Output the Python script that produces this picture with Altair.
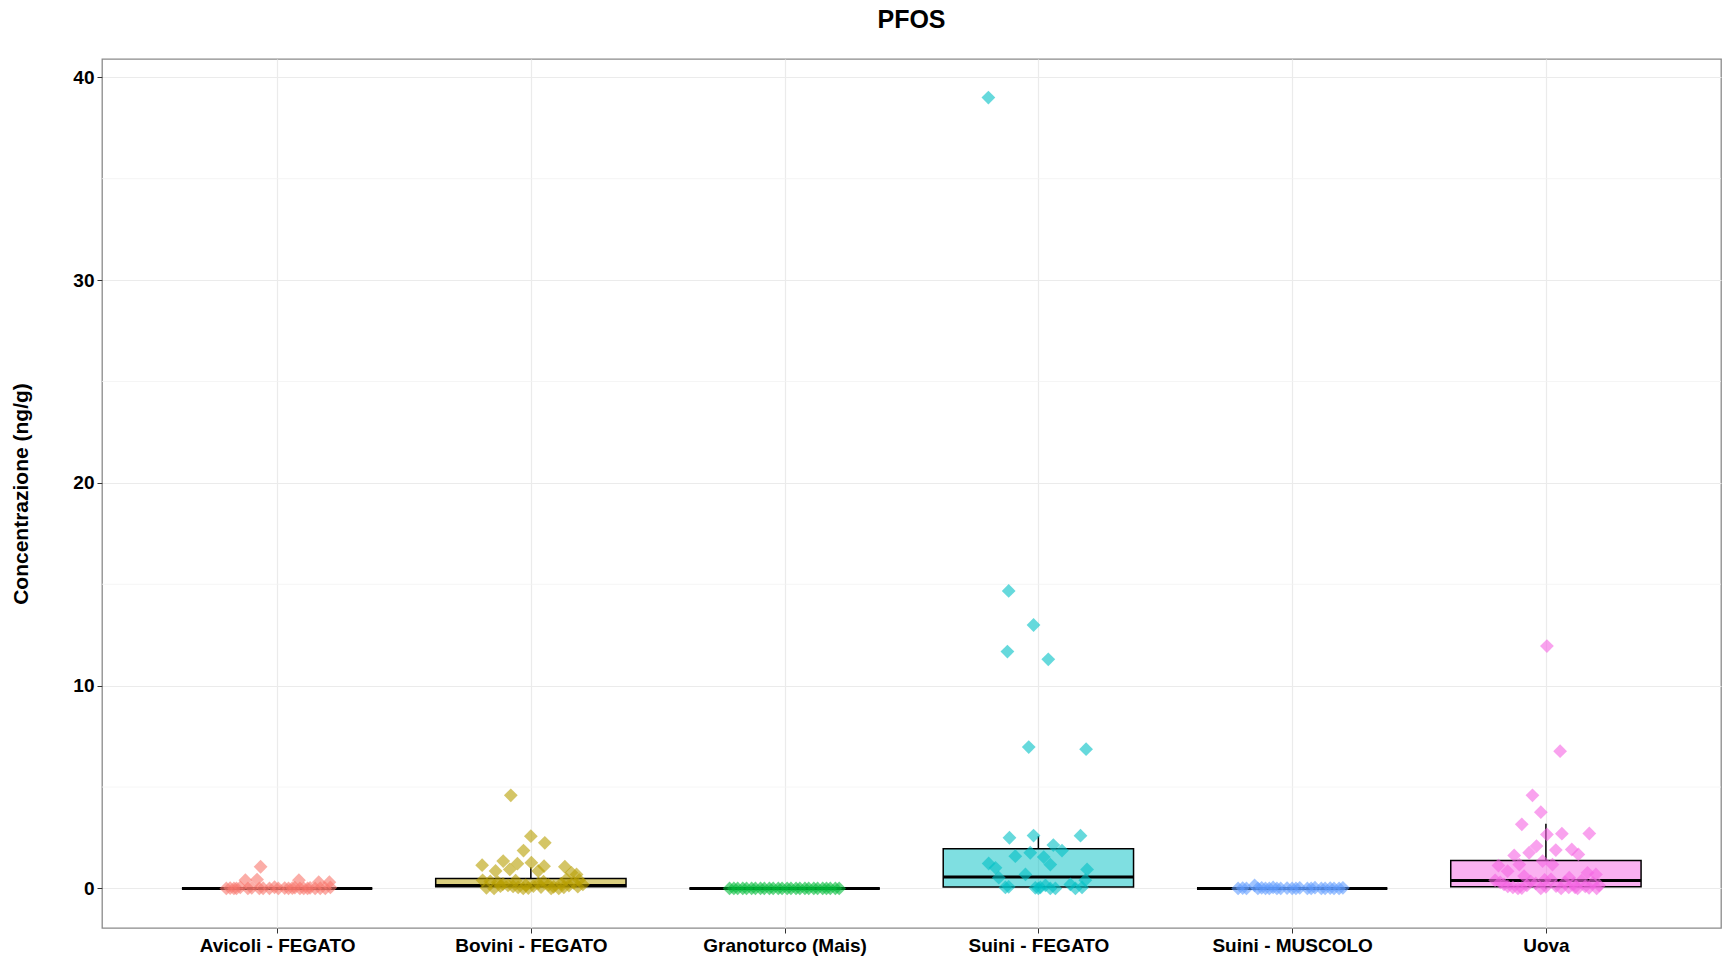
import altair as alt
import pandas as pd

# ---------------- data ----------------
categories = ["Avicoli - FEGATO", "Bovini - FEGATO", "Granoturco (Mais)",
              "Suini - FEGATO", "Suini - MUSCOLO", "Uova"]
colors = ["#F8766D", "#B79F00", "#00BA38", "#00BFC4", "#619CFF", "#F564E3"]

# box-plot statistics (ng/g)
box_q1 = [0.0, 0.08, 0.0, 0.07, 0.0, 0.08]
box_med = [0.0, 0.14, 0.0, 0.56, 0.0, 0.39]
box_q3 = [0.0, 0.49, 0.0, 1.96, 0.0, 1.38]
box_wlo = [0.0, 0.0, 0.0, 0.0, 0.0, 0.0]
box_whi = [0.0, 1.05, 0.0, 2.58, 0.0, 3.19]

# jittered observations: value and horizontal jitter (in category units)
avicoli_val = [0.00, 0.02, 0.00, 0.05, 0.00, 0.03, 0.00, 0.01, 0.00, 0.06, 0.00, 0.02,
               0.00, 0.04, 0.00, 0.00, 0.03, 0.00, 0.01, 0.00, 0.05, 0.00, 0.02, 0.00,
               1.07, 0.41, 0.44, 0.41, 0.31, 0.31]
avicoli_jit = [-0.20, -0.185, -0.16, -0.145, -0.115, -0.10, -0.07, -0.055, -0.03, -0.01,
               0.005, 0.03, 0.045, 0.07, 0.09, 0.105, 0.13, 0.15, 0.17, 0.19, 0.21, -0.17,
               0.06, 0.12, -0.065, -0.125, -0.079, 0.086, 0.164, 0.206]

bovini_val = [4.59, 2.58, 2.25, 1.87, 1.15, 1.35, 1.22, 1.27, 1.10, 1.07, 0.86, 0.94,
              0.77, 0.86, 0.69, 0.40, 0.35, 0.30, 0.22, 0.15, 0.10, 0.05, 0.00, 0.02,
              0.12, 0.25, 0.33, 0.18, 0.08, 0.00, 0.06, 0.14, 0.28, 0.42, 0.20, 0.03,
              0.00, 0.11, 0.38, 0.16, 0.07, 0.00, 0.24, 0.45, 0.09]
bovini_jit = [-0.079, 0.0, 0.055, -0.029, -0.192, -0.109, -0.053, 0.002, 0.052, 0.134,
              -0.139, -0.083, 0.16, 0.029, 0.18, -0.19, -0.16, -0.13, -0.11, -0.09,
              -0.07, -0.05, -0.03, -0.01, 0.01, 0.03, 0.05, 0.07, 0.09, 0.11, 0.13,
              0.15, 0.17, 0.19, 0.205, -0.175, -0.145, -0.12, -0.06, -0.02, 0.04,
              0.08, 0.12, 0.14, 0.185]

grano_val = [0.0] * 26
grano_jit = [-0.217, -0.2, -0.185, -0.165, -0.15, -0.13, -0.115, -0.095, -0.08, -0.06,
             -0.045, -0.025, -0.01, 0.01, 0.025, 0.045, 0.06, 0.08, 0.095, 0.115, 0.13,
             0.15, 0.165, 0.18, 0.2, 0.215]

suinif_val = [39.0, 14.67, 12.99, 11.68, 11.30, 6.97, 6.87, 2.50, 2.61, 2.60, 2.14,
              1.87, 1.76, 1.59, 1.55, 1.23, 1.02, 1.18, 0.94, 0.69, 0.53, 0.41, 0.08,
              0.03, 0.05, 0.15, 0.00, 0.00, 0.20, 0.00, 0.05, 0.00, 0.05]
suinif_jit = [-0.197, -0.117, -0.019, -0.122, 0.039, -0.038, 0.188, -0.114, -0.019,
              0.166, 0.059, 0.093, -0.032, -0.091, 0.021, -0.196, -0.169, 0.047, 0.192,
              -0.051, -0.156, 0.185, -0.117, -0.012, 0.008, 0.028, 0.047, 0.067, 0.126,
              0.146, 0.172, 0.0, -0.13]

suinim_val = [0.0, 0.02, 0.0, 0.15, 0.0, 0.03, 0.0, 0.0, 0.05, 0.0, 0.0, 0.02, 0.0,
              0.0, 0.03, 0.0, 0.0, 0.04, 0.0, 0.0, 0.02, 0.0, 0.0, 0.03]
suinim_jit = [-0.213, -0.195, -0.18, -0.148, -0.135, -0.12, -0.105, -0.09, -0.075,
              -0.06, -0.045, -0.02, 0.0, 0.015, 0.03, 0.06, 0.075, 0.09, 0.115, 0.13,
              0.15, 0.165, 0.185, 0.2]

uova_val = [11.95, 6.77, 4.59, 3.76, 3.16, 2.70, 2.71, 2.66, 2.09, 1.89, 1.92, 1.68,
            1.63, 1.76, 1.13, 1.18, 1.35, 1.18, 0.85, 0.77, 0.69, 0.61, 0.53, 0.40,
            0.30, 0.20, 0.10, 0.05, 0.00, 0.02, 0.15, 0.35, 0.25, 0.00, 0.08, 0.45,
            0.12, 0.00, 0.30, 0.05, 0.22, 0.00, 0.38, 0.10, 0.03, 0.28, 0.00, 0.15,
            0.42, 0.06]
uova_jit = [0.004, 0.056, -0.053, -0.02, -0.095, 0.063, 0.171, 0.004, -0.037, 0.039,
            0.102, 0.128, -0.125, -0.066, -0.187, -0.105, -0.013, 0.026, -0.151, 0.164,
            0.197, -0.086, 0.092, -0.2, -0.18, -0.165, -0.15, -0.13, -0.11, -0.095,
            -0.075, -0.06, -0.04, -0.02, 0.0, 0.02, 0.04, 0.06, 0.075, 0.09, 0.11,
            0.125, 0.14, 0.155, 0.17, 0.185, 0.2, 0.21, -0.005, 0.115]

y_ticks = [0, 10, 20, 30, 40]
y_minor = [5, 15, 25, 35]

# ---------------- tables ----------------
groups = [(avicoli_val, avicoli_jit), (bovini_val, bovini_jit), (grano_val, grano_jit),
          (suinif_val, suinif_jit), (suinim_val, suinim_jit), (uova_val, uova_jit)]
rows = []
for i, (vals, jits) in enumerate(groups):
    for v, j in zip(vals, jits):
        rows.append({"cat": categories[i], "idx": i, "value": v, "jit": j})
points = pd.DataFrame(rows)

HALF = 0.375  # half width of box (category units)
boxes = pd.DataFrame({"cat": categories, "idx": list(range(len(categories))),
                      "q1": box_q1, "med": box_med, "q3": box_q3,
                      "wlo": box_wlo, "whi": box_whi})

FONT = "Liberation Sans"
xscale = alt.Scale(domain=[-0.69, 5.69], nice=False, zero=False)
yscale = alt.Scale(domain=[-1.95, 40.9], nice=False, zero=False)
cscale = alt.Scale(domain=categories, range=colors)

label_expr = "[" + ",".join("'" + c + "'" for c in categories) + "][datum.value]"

xaxis = alt.Axis(values=list(range(len(categories))), labelExpr=label_expr, title=None,
                 grid=True, gridColor="#EBEBEB", gridWidth=1.2, domain=False,
                 tickColor="#333333", tickSize=5, labelFont=FONT, labelFontSize=19,
                 labelFontWeight="bold", labelColor="#000000", labelPadding=3)
yaxis = alt.Axis(values=y_ticks, format="d", title="Concentrazione (ng/g)",
                 grid=True, gridColor="#EBEBEB", gridWidth=1.2, domain=False,
                 tickColor="#333333", tickSize=5, labelFont=FONT, labelFontSize=19,
                 labelFontWeight="bold", labelColor="#000000", labelPadding=3,
                 titleFont=FONT, titleFontSize=21, titleFontWeight="bold",
                 titleColor="#000000", titleX=-81, titleY=434.5, titleAngle=270,
                 titleBaseline="middle", titleAlign="center")

base_pts = alt.Chart(points).transform_calculate(xpos="datum.idx + datum.jit")
base_box = alt.Chart(boxes).transform_calculate(
    xlo=f"datum.idx - {HALF}", xhi=f"datum.idx + {HALF}")

minor = alt.Chart(pd.DataFrame({"y": y_minor})).mark_rule(
    color="#F3F3F3", strokeWidth=0.8).encode(y=alt.Y("y:Q", scale=yscale))

frame = alt.Chart(boxes).mark_point(opacity=0).encode(
    x=alt.X("idx:Q", scale=xscale, axis=xaxis),
    y=alt.Y("q1:Q", scale=yscale, axis=yaxis))

whisk_up = base_box.mark_rule(color="#000000", strokeWidth=1.5).encode(
    x=alt.X("idx:Q", scale=xscale), y=alt.Y("q3:Q", scale=yscale), y2="whi:Q")
whisk_lo = base_box.mark_rule(color="#000000", strokeWidth=1.5).encode(
    x=alt.X("idx:Q", scale=xscale), y=alt.Y("wlo:Q", scale=yscale), y2="q1:Q")

box = base_box.mark_rect(stroke="#000000", strokeWidth=1.5, fillOpacity=0.5).encode(
    x=alt.X("xlo:Q", scale=xscale), x2="xhi:Q",
    y=alt.Y("q1:Q", scale=yscale), y2="q3:Q",
    fill=alt.Fill("cat:N", scale=cscale, legend=None))

median = base_box.mark_rule(color="#000000", strokeWidth=3).encode(
    x=alt.X("xlo:Q", scale=xscale), x2="xhi:Q", y=alt.Y("med:Q", scale=yscale))

pts = base_pts.mark_point(shape="diamond", filled=True, size=190, opacity=0.6,
                          strokeWidth=0).encode(
    x=alt.X("xpos:Q", scale=xscale),
    y=alt.Y("value:Q", scale=yscale),
    color=alt.Color("cat:N", scale=cscale, legend=None))

chart = alt.layer(minor, frame, whisk_up, whisk_lo, box, median, pts).properties(
    width=1619, height=869,
    title=alt.TitleParams("PFOS", font=FONT, fontSize=25, fontWeight="bold",
                          color="#000000", anchor="middle", baseline="alphabetic",
                          offset=6),
    autosize=alt.AutoSizeParams(type="none"),
    padding={"left": 102, "top": 59, "right": 9, "bottom": 31},
    background="#FFFFFF",
).configure_view(stroke="#8A8A8A", strokeWidth=1.3)

chart.save("out.html", embed_options={"renderer": "svg", "actions": False})
